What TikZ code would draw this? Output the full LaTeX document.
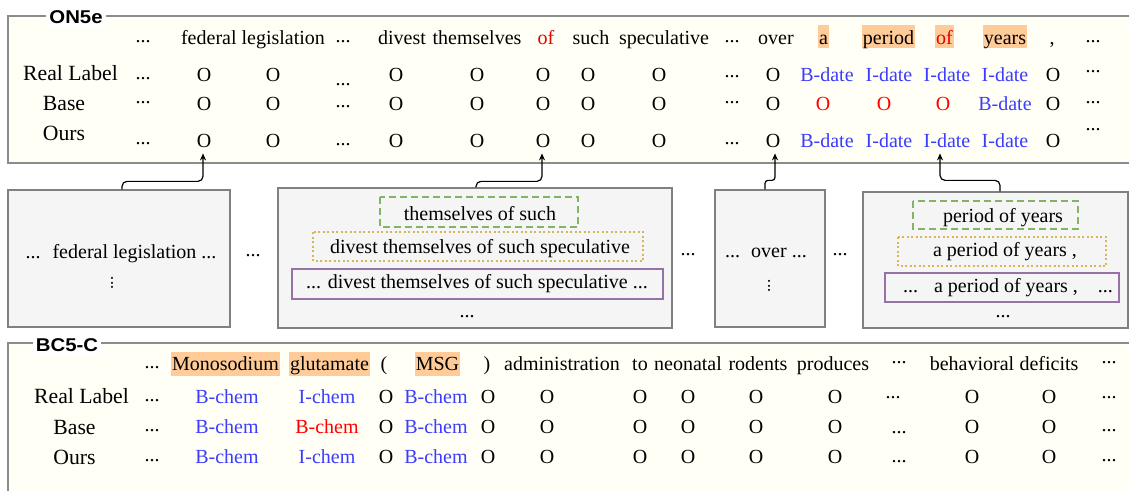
\documentclass[tikz,border=0pt]{standalone}
\usepackage{graphicx}
\usepackage{fontspec}
\setmainfont{Liberation Serif}
\newfontfamily\labfont{Liberation Sans}
\usetikzlibrary{arrows.meta}
\definecolor{panelfill}{HTML}{FFFFF6}
\definecolor{panelgray}{HTML}{8C8C8C}
\definecolor{boxfill}{HTML}{F5F5F5}
\definecolor{boxgray}{HTML}{808080}
\definecolor{hl}{HTML}{FFCC99}
\definecolor{tagblue}{HTML}{3C3CFF}
\definecolor{tagred}{HTML}{FF0000}
\definecolor{wordred}{HTML}{E60000}
\definecolor{cgreen}{HTML}{82B366}
\definecolor{cyellow}{HTML}{D6B656}
\definecolor{cpurple}{HTML}{9673A6}
\begin{document}
\begin{tikzpicture}[x=1pt,y=-1pt,
  every node/.style={inner sep=0pt, font=\fontsize{20}{24}\selectfont},
  wd/.style={anchor=base},
  tg/.style={anchor=base},
  btag/.style={anchor=base, text=tagblue},
  rtag/.style={anchor=base, text=tagred},
  hlw/.style={anchor=base, fill=hl, inner xsep=1pt, text height=19pt, text depth=4pt},
  hlv/.style={anchor=base, fill=hl, inner xsep=1pt, text height=18pt, text depth=6pt},
  dts/.style={anchor=center},
  vdt/.style={anchor=center, font=\fontsize{17}{18}\selectfont},
  rowlab/.style={anchor=base, font=\fontsize{21.7}{24}\selectfont},
  panel/.style={draw=panelgray, fill=panelfill, line width=1.3pt},
  gbox/.style={draw=boxgray, fill=boxfill, line width=1.3pt},
  grn/.style={draw=cgreen, dash pattern=on 7pt off 4pt, line width=2pt},
  ylw/.style={draw=cyellow, dash pattern=on 2pt off 2.5pt, line width=2.2pt},
  prp/.style={draw=cpurple, line width=2.2pt},
  conn/.style={-{Stealth[length=7pt,width=6pt]}, line width=1.2pt, rounded corners=5pt},
  tlab/.style={fill=white, inner sep=3pt, font=\labfont\bfseries\fontsize{18.5}{20}\selectfont}
]
\clip (0,0) rectangle (1129,490);
% ---------------- panel 1 ----------------
\draw[panel] (8,16) rectangle (1140,163);
\node[tlab] (on5e) at (76,17) {\scalebox{1.1}[1]{ON5e}};
% words
\node[dts] (d01) at (143,42) {...};
\node[wd] (w01) at (253,44) {federal legislation};
\node[dts] (d02) at (343,42) {...};
\node[wd] (w02) at (402,44) {divest};
\node[wd] (w03) at (477,44) {themselves};
\node[wd, text=wordred] (w04) at (546,44) {of};
\node[wd] (w05) at (591,44) {such};
\node[wd] (w06) at (664,44) {speculative};
\node[dts] (d03) at (732,42) {...};
\node[wd] (w07) at (776,44) {over};
\node[hlw] (w08) at (823.5,44) {a};
\node[hlw] (w09) at (888.5,44) {period};
\node[hlw, text=wordred] (w10) at (944.5,44) {of};
\node[hlw] (w11) at (1005,44) {years};
\node[wd] (w12) at (1052,44) {,};
\node[dts] (d04) at (1093,42) {...};
% real label
\node[rowlab] (lr1) at (70.5,80) {Real Label};
\node[dts] at (143,79) {...};
\node[tg] at (204,81) {O};
\node[tg] at (273,81) {O};
\node[dts] at (343,85) {...};
\node[tg] at (396,81) {O};
\node[tg] at (477,81) {O};
\node[tg] at (543,81) {O};
\node[tg] at (588,81) {O};
\node[tg] at (659,81) {O};
\node[dts] at (732,77) {...};
\node[tg] at (773,81) {O};
\node[btag] at (827,81) {B-date};
\node[btag] at (889,81) {I-date};
\node[btag] at (947,81) {I-date};
\node[btag] at (1005,81) {I-date};
\node[tg] at (1053,81) {O};
\node[dts] at (1093,72) {...};
% base
\node[rowlab] (lb1) at (64,110) {Base};
\node[dts] at (143,103) {...};
\node[tg] at (204,110) {O};
\node[tg] at (273,110) {O};
\node[dts] at (343,107) {...};
\node[tg] at (396,110) {O};
\node[tg] at (477,110) {O};
\node[tg] at (543,110) {O};
\node[tg] at (588,110) {O};
\node[tg] at (659,110) {O};
\node[dts] at (732,103) {...};
\node[tg] at (773,110) {O};
\node[rtag] at (823,110) {O};
\node[rtag] at (884,110) {O};
\node[rtag] at (943,110) {O};
\node[btag] at (1005,110) {B-date};
\node[tg] at (1053,110) {O};
\node[dts] at (1093,103) {...};
% ours
\node[rowlab] (lo1) at (64,140) {Ours};
\node[dts] at (143,144) {...};
\node[tg] (t1) at (204,147) {O};
\node[tg] at (273,147) {O};
\node[dts] at (343,145) {...};
\node[tg] at (396,147) {O};
\node[tg] at (477,147) {O};
\node[tg] (t2) at (543,147) {O};
\node[tg] at (588,147) {O};
\node[tg] at (659,147) {O};
\node[dts] at (732,144) {...};
\node[tg] (t3) at (773,147) {O};
\node[btag] at (827,147) {B-date};
\node[btag] at (889,147) {I-date};
\node[btag] (t4) at (947,147) {I-date};
\node[btag] at (1005,147) {I-date};
\node[tg] at (1053,147) {O};
\node[dts] at (1093,130) {...};
% ---------------- middle boxes ----------------
\node[gbox, minimum width=222pt, minimum height=137pt] (box1) at (119,258.5) {};
\node[gbox, minimum width=394pt, minimum height=140pt] (box2) at (475,258) {};
\node[gbox, minimum width=110pt, minimum height=137pt] (box3) at (770,258.5) {};
\node[gbox, minimum width=265pt, minimum height=136pt] (box4) at (995.5,260) {};
% box1
\node[wd] (b1t) at (121,258) {...\hspace{12pt}federal legislation ...};
\node[vdt] (b1v) at (112,283) {\rotatebox{90}{...}};
\node[dts] (m1) at (253,256) {...};
% box2
\draw[grn] (380,197) rectangle (578,227);
\draw[ylw] (313,232) rectangle (643,261);
\draw[prp] (292,269) rectangle (663,299);
\node[wd] (b2a) at (480,220) {themselves of such};
\node[wd] (b2b) at (480,253) {divest themselves of such speculative};
\node[wd] (b2c) at (477,288) {... divest themselves of such speculative ...};
\node[dts] (b2d) at (467,317) {...};
\node[dts] (m2) at (688,255) {...};
% box3
\node[wd] (b3t) at (766,257) {...\hspace{11pt}over ...};
\node[vdt] (b3v) at (769,286) {\rotatebox{90}{...}};
\node[dts] (m3) at (840,255) {...};
% box4
\draw[grn] (913,201) rectangle (1078,229);
\draw[ylw] (898,237) rectangle (1106,266);
\draw[prp] (885,273) rectangle (1119,302);
\node[wd] (b4a) at (1003,222) {period of years};
\node[wd] (b4b) at (1005,256) {a period of years ,};
\node[wd] (b4c) at (1008,292) {...\hspace{16pt}a period of years ,\hspace{20pt}...};
\node[dts] (b4d) at (1003,317) {...};
% connectors
\draw[conn] ([xshift=3pt]box1.north) -- ++(0,-8) -| ([xshift=-1pt,yshift=-6pt]t1.south);
\draw[conn] ([xshift=1pt]box2.north) -- ++(0,-6) -| ([xshift=-1pt,yshift=-6pt]t2.south);
\draw[conn, rounded corners=3pt] ([xshift=-5pt]box3.north) -- ++(0,-9) -| ([xshift=2pt,yshift=-6pt]t3.south);
\draw[conn] ([xshift=4.5pt]box4.north) -- ++(0,-11) -| ([xshift=-7pt,yshift=-6pt]t4.south);
% ---------------- panel 2 ----------------
\draw[panel] (8,343) rectangle (1140,500);
\node[tlab] (bc5c) at (67,345) {\scalebox{1.1}[1]{BC5-C}};
% words
\node[dts] at (152,368) {...};
\node[hlv] (v01) at (225.5,370) {Monosodium};
\node[hlv] (v02) at (329.5,370) {glutamate};
\node[wd] (v03) at (384,370) {(};
\node[hlv] (v04) at (437.5,370) {MSG};
\node[wd] (v05) at (487,370) {)};
\node[wd] (v06) at (562,370) {administration};
\node[wd] (v07) at (640,370) {to};
\node[wd] (v08) at (688,370) {neonatal};
\node[wd] (v09) at (758,370) {rodents};
\node[wd] (v10) at (833,370) {produces};
\node[dts] at (899,363) {...};
\node[wd] (v11) at (972,370) {behavioral};
\node[wd] (v12) at (1049,370) {deficits};
\node[dts] at (1109,363) {...};
% real label
\node[rowlab] (lr2) at (81.5,403) {Real Label};
\node[dts] at (152,401) {...};
\node[btag] at (227,403) {B-chem};
\node[btag] at (327,403) {I-chem};
\node[tg] at (386,403) {O};
\node[btag] at (436,403) {B-chem};
\node[tg] at (488,403) {O};
\node[tg] at (547,403) {O};
\node[tg] at (640,403) {O};
\node[tg] at (688,403) {O};
\node[tg] at (756,403) {O};
\node[tg] at (835,403) {O};
\node[dts] at (893,398) {...};
\node[tg] at (972,403) {O};
\node[tg] at (1049,403) {O};
\node[dts] at (1109,398) {...};
% base
\node[rowlab] (lb2) at (74.5,434) {Base};
\node[dts] at (152,431) {...};
\node[btag] at (227,433) {B-chem};
\node[rtag] at (327,433) {B-chem};
\node[tg] at (386,433) {O};
\node[btag] at (436,433) {B-chem};
\node[tg] at (488,433) {O};
\node[tg] at (547,433) {O};
\node[tg] at (640,433) {O};
\node[tg] at (688,433) {O};
\node[tg] at (756,433) {O};
\node[tg] at (835,433) {O};
\node[dts] at (899,433) {...};
\node[tg] at (972,433) {O};
\node[tg] at (1049,433) {O};
\node[dts] at (1109,431) {...};
% ours
\node[rowlab] (lo2) at (74.5,464) {Ours};
\node[dts] at (152,461) {...};
\node[btag] at (227,463) {B-chem};
\node[btag] at (327,463) {I-chem};
\node[tg] at (386,463) {O};
\node[btag] at (436,463) {B-chem};
\node[tg] at (488,463) {O};
\node[tg] at (547,463) {O};
\node[tg] at (640,463) {O};
\node[tg] at (688,463) {O};
\node[tg] at (756,463) {O};
\node[tg] at (835,463) {O};
\node[dts] at (899,462) {...};
\node[tg] at (972,463) {O};
\node[tg] at (1049,463) {O};
\node[dts] at (1109,461) {...};
\end{tikzpicture}
\end{document}
